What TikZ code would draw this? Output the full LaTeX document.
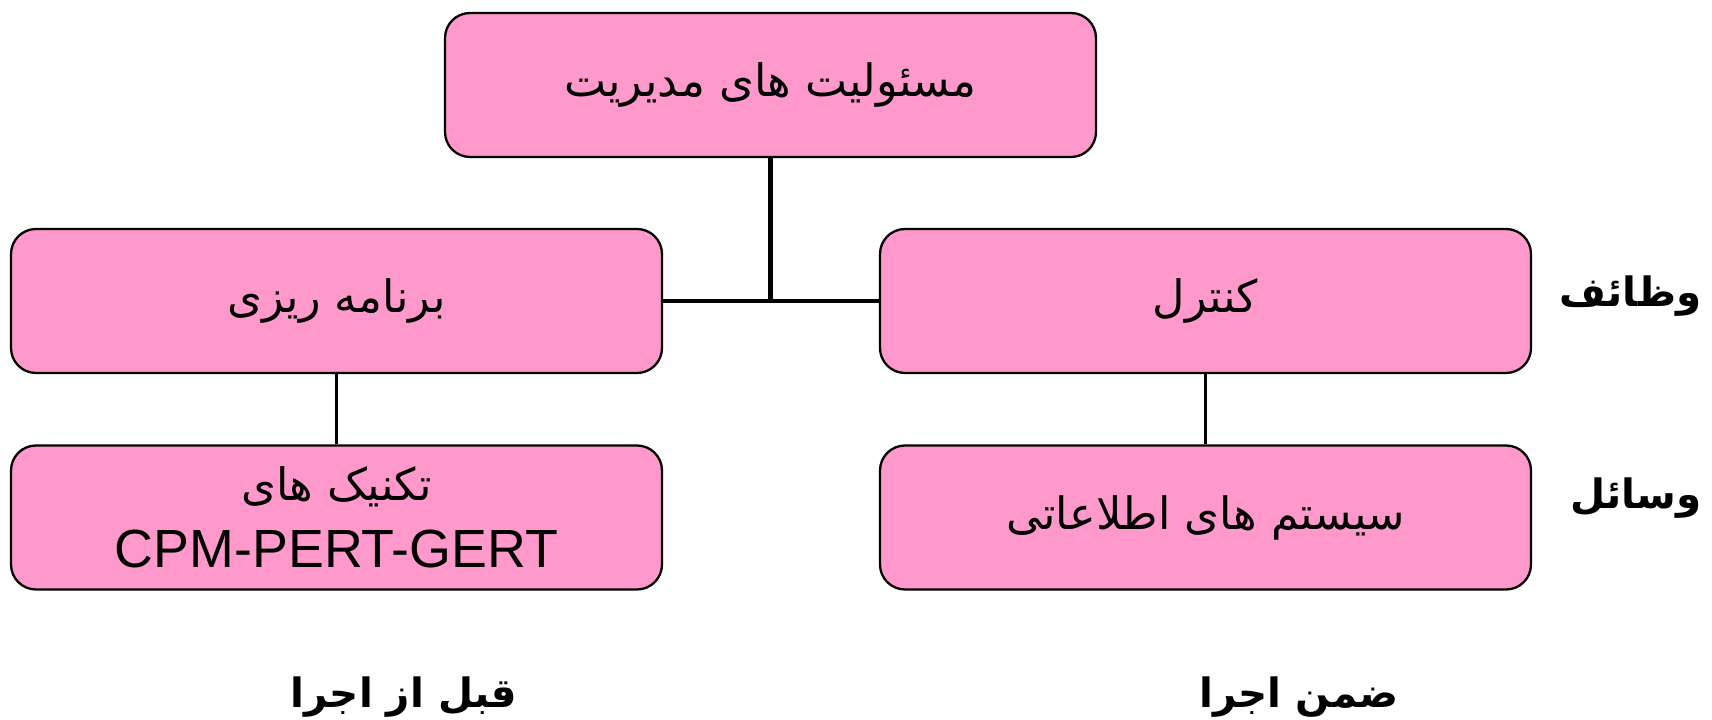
\documentclass[tikz,border=0pt]{standalone}
\usepackage{fontspec}
\setsansfont{Liberation Sans}
\newfontfamily\farsi[Script=Arabic]{DejaVu Sans}
\TeXXeTstate=1
\usepackage{tikz}
\definecolor{boxpink}{RGB}{255,153,204}
\newcommand{\fa}[1]{{\farsi\beginR #1\endR}}
\tikzset{
  mgmtbox/.style={draw, fill=boxpink, rounded corners=0.25cm, line width=0.65pt,
    minimum width=6.51cm, minimum height=1.44cm, font=\fontsize{12.7}{15}\selectfont, align=center},
  tierlabel/.style={inner sep=0pt, font=\fontsize{11.5}{14}\selectfont\bfseries}
}

\begin{document}
\begin{tikzpicture}
\useasboundingbox (0,0) rectangle (17.12,-7.2);
\node[mgmtbox] (resp) at (7.705,-0.85) {\fa{مسئولیت های مدیریت}};
\node[mgmtbox] (plan) at (3.365,-3.01) {\fa{برنامه ریزی}};
\node[mgmtbox] (ctrl) at (12.055,-3.01) {\fa{کنترل}};
\node[mgmtbox] (tech) at (3.365,-5.175) {\fa{تکنیک های}\\[4pt] {\sffamily\fontsize{15.3}{18}\selectfont CPM-PERT-GERT}};
\node[mgmtbox] (info) at (12.055,-5.175) {\fa{سیستم های اطلاعاتی}};
    \coordinate (mid) at (resp.south |- plan.east);
    \draw[line width=1.2pt] (resp.south) -- (mid);
    \draw[line width=1.2pt] (plan.east) -- (ctrl.west);
    \draw[line width=0.9pt] (plan.south) -- (tech.north);
    \draw[line width=0.9pt] (ctrl.south) -- (info.north);
\node[tierlabel, anchor=east] (funcs) at (17.02,-2.96) {\fa{وظائف}};
\node[tierlabel, anchor=east] (means) at (17.02,-4.98) {\fa{وسائل}};
\node[tierlabel] (before) at (4.04,-6.97) {\fa{قبل از اجرا}};
\node[tierlabel] (during) at (12.99,-6.97) {\fa{ضمن اجرا}};
\end{tikzpicture}
\end{document}
